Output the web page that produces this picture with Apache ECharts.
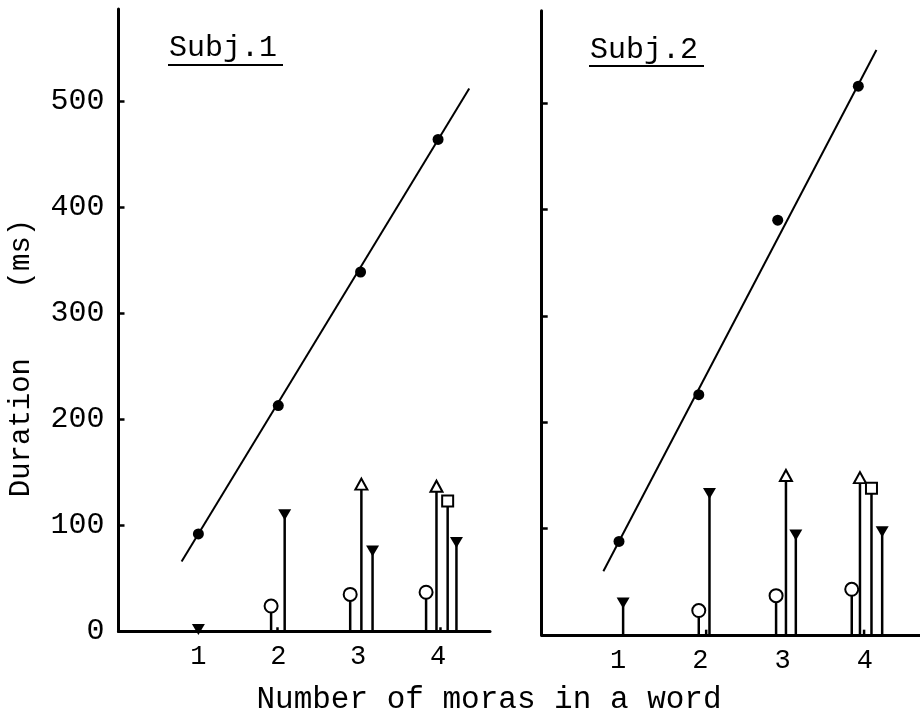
<!DOCTYPE html>
<html>
<head>
<meta charset="utf-8">
<script src="https://cdn.jsdelivr.net/npm/echarts@6/dist/echarts.min.js"></script>
<style>
  html, body { margin: 0; padding: 0; background: #fff; }
  #main { width: 920px; height: 726px; }
</style>
</head>
<body>
<div id="main"></div>
<script>
// tick labels
var xTicks = [1, 2, 3, 4];
var yTicks = [0, 100, 200, 300, 400, 500];

// Subj.1  [number of moras, duration ms]
var s1Means  = [[1, 92], [2, 213], [3.03, 339], [4, 464]];
var s1Fit    = [[0.79, 66], [4.39, 512]];
var s1Circle = [[1.91, 24], [2.9, 35], [3.85, 37]];
var s1Tri    = [[3.04, 139], [3.98, 137]];
var s1Square = [[4.12, 123]];
var s1InvTri = [[1, 2], [2.08, 110], [3.18, 76], [4.23, 84]];
var s1Small  = [[1.99, 4], [4.03, 4]];

// Subj.2
var s2Means  = [[1.01, 88], [1.98, 226], [2.94, 390], [3.92, 516]];
var s2Fit    = [[0.82, 60], [4.14, 550]];
var s2Circle = [[1.98, 23], [2.92, 37], [3.84, 43]];
var s2Tri    = [[3.04, 150], [3.94, 148]];
var s2Square = [[4.08, 138]];
var s2InvTri = [[1.06, 30], [2.11, 133], [3.16, 94], [4.21, 97]];
var s2Small  = [[2.07, 5], [3.99, 5]];

var FONT = '"Liberation Mono", "DejaVu Sans Mono", monospace';

function stemItem(params, api) {
  var top = api.coord([api.value(0), api.value(1)]);
  var base = api.coord([api.value(0), 0]);
  return {
    type: 'line',
    shape: { x1: base[0], y1: base[1], x2: top[0], y2: top[1] },
    style: { stroke: '#000', lineWidth: 2.5 }
  };
}

function panelSeries(idx, means, fit, circle, tri, square, invTri, small) {
  var stems = circle.concat(tri, square, invTri, small);
  var ax = { xAxisIndex: idx, yAxisIndex: idx };
  return [
    Object.assign({ type: 'line', data: fit, symbol: 'none', silent: true,
      lineStyle: { color: '#000', width: 2 }, z: 2 }, ax),
    Object.assign({ type: 'custom', data: stems, renderItem: stemItem,
      encode: { x: 0, y: 1 }, z: 3 }, ax),
    Object.assign({ type: 'scatter', data: means, symbol: 'circle', symbolSize: 11,
      itemStyle: { color: '#000', opacity: 1 }, z: 4 }, ax),
    Object.assign({ type: 'scatter', data: circle, symbol: 'emptyCircle', symbolSize: 13,
      itemStyle: { color: '#000', borderColor: '#000', borderWidth: 2.5, opacity: 1 }, z: 5 }, ax),
    Object.assign({ type: 'scatter', data: tri, symbol: 'emptyTriangle', symbolSize: [12, 11],
      itemStyle: { color: '#000', borderColor: '#000', borderWidth: 2.2, opacity: 1 }, z: 5 }, ax),
    Object.assign({ type: 'scatter', data: square, symbol: 'emptyRect', symbolSize: 11,
      itemStyle: { color: '#000', borderColor: '#000', borderWidth: 2.5, opacity: 1 }, z: 5 }, ax),
    Object.assign({ type: 'scatter', data: invTri, symbol: 'triangle', symbolRotate: 180,
      symbolSize: [13, 11], itemStyle: { color: '#000', opacity: 1 }, z: 5 }, ax)
  ];
}

function xAxisCfg(gridIndex, min, max) {
  return {
    type: 'value', gridIndex: gridIndex, min: min, max: max,
    splitLine: { show: false },
    axisLine: { lineStyle: { color: '#000', width: 3 } },
    axisTick: { show: false },
    axisLabel: { customValues: xTicks, color: '#000', fontFamily: FONT, fontSize: 27, margin: 12 }
  };
}

function yAxisCfg(gridIndex, showLabels) {
  return {
    type: 'value', gridIndex: gridIndex, min: 0, max: 587,
    splitLine: { show: false },
    axisLine: { lineStyle: { color: '#000', width: 3 } },
    axisTick: { customValues: yTicks, inside: true, length: 6, lineStyle: { color: '#000', width: 2.5 } },
    axisLabel: { show: showLabels, customValues: yTicks, color: '#000', fontFamily: FONT, fontSize: 30, margin: 14 }
  };
}

var chart = echarts.init(document.getElementById('main'), null, { renderer: 'canvas' });

var option = {
  backgroundColor: '#fff',
  animation: false,
  grid: [
    { left: 118.5, right: 430, top: 9, bottom: 94.5 },
    { left: 541.7, right: 0, top: 10.7, bottom: 91 }
  ],
  xAxis: [ xAxisCfg(0, 0, 4.65), xAxisCfg(1, 0.07, 4.67) ],
  yAxis: [ yAxisCfg(0, true), yAxisCfg(1, false) ],
  series: panelSeries(0, s1Means, s1Fit, s1Circle, s1Tri, s1Square, s1InvTri, s1Small)
    .concat(panelSeries(1, s2Means, s2Fit, s2Circle, s2Tri, s2Square, s2InvTri, s2Small)),
  graphic: [
    { type: 'text', left: 169, top: 33,
      style: { text: 'Subj.1', font: '30px ' + FONT, fill: '#000' } },
    { type: 'line', shape: { x1: 168, y1: 65, x2: 283, y2: 65 }, style: { stroke: '#000', lineWidth: 2 } },
    { type: 'text', left: 590, top: 35,
      style: { text: 'Subj.2', font: '30px ' + FONT, fill: '#000' } },
    { type: 'line', shape: { x1: 589, y1: 66, x2: 704, y2: 66 }, style: { stroke: '#000', lineWidth: 2 } },
    { type: 'text', x: 21, y: 358, rotation: Math.PI / 2,
      style: { text: 'Duration    (ms)', font: '29px ' + FONT, fill: '#000',
        align: 'center', verticalAlign: 'middle' } },
    { type: 'text', x: 489, y: 700,
      style: { text: 'Number of moras in a word', font: '31px ' + FONT, fill: '#000',
        align: 'center', verticalAlign: 'middle' } }
  ]
};

chart.setOption(option);
</script>
</body>
</html>
